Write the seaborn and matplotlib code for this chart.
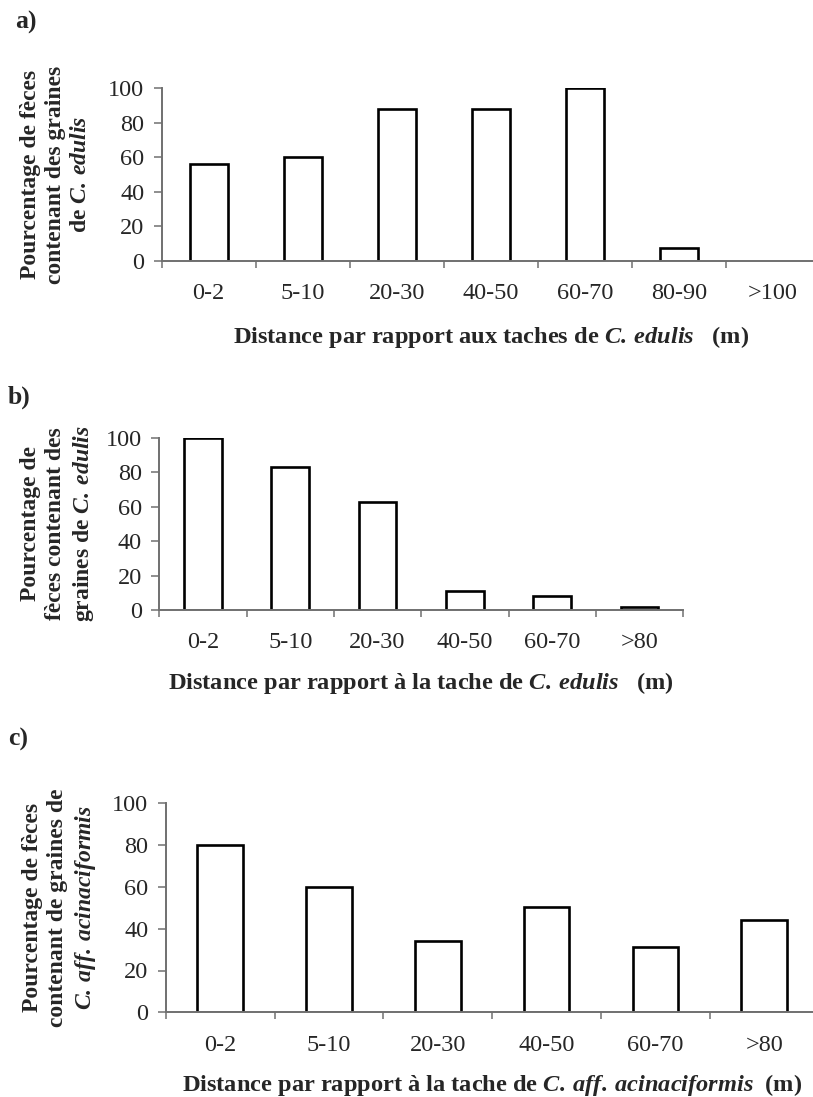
import numpy as np
import pandas as pd
import matplotlib
matplotlib.use('Agg')
import matplotlib.pyplot as plt
import seaborn as sns

# Données
classes_a = ['0-2', '5-10', '20-30', '40-50', '60-70', '80-90', '>100']
valeurs_a = [56, 60, 88, 88, 100, 7.5, 0]

classes_b = ['0-2', '5-10', '20-30', '40-50', '60-70', '>80']
valeurs_b = [100, 83, 62.5, 11.2, 8.2, 1.5]

classes_c = ['0-2', '5-10', '20-30', '40-50', '60-70', '>80']
valeurs_c = [80, 60, 34, 50.3, 31.2, 44.3]

sns.set_style('ticks')
plt.rcParams['font.family'] = ['Liberation Serif', 'DejaVu Serif']
plt.rcParams['mathtext.fontset'] = 'custom'
plt.rcParams['mathtext.rm'] = 'Liberation Serif'
plt.rcParams['mathtext.it'] = 'Liberation Serif:italic'
plt.rcParams['mathtext.bf'] = 'Liberation Serif:bold'
plt.rcParams['mathtext.bfit'] = 'Liberation Serif:italic:bold'

W, H = 813, 1097
fig = plt.figure(figsize=(W / 100, H / 100), dpi=100)

gris = '#707070'

# (gauche, haut, largeur, bas) en pixels
panneaux = [
    dict(lettre='a)', cats=classes_a, vals=valeurs_a, box=(161.7, 88.3, 658, 261),
         ylab="Pourcentage de fèces\ncontenant des graines\nde $\\mathbfit{C.\\:edulis}$",
         xlab="Distance par rapport aux taches de $\\mathbfit{C.\\:edulis}$   (m)",
         ylab_x=55.5, xlab_y=337, let=(15, 22), bw=0.40),
    dict(lettre='b)', cats=classes_b, vals=valeurs_b, box=(159.3, 437.7, 523.8, 610),
         ylab="Pourcentage de\nfèces contenant des\ngraines de $\\mathbfit{C.\\:edulis}$",
         xlab="Distance par rapport à la tache de $\\mathbfit{C.\\:edulis}$   (m)",
         ylab_x=58, xlab_y=683, let=(8, 397), bw=0.43),
    dict(lettre='c)', cats=classes_c, vals=valeurs_c, box=(165.7, 803.3, 653, 1012.3),
         ylab="Pourcentage de fèces\ncontenant de graines de\n$\\mathbfit{C.\\:aff.\\:acinaciformis}$",
         xlab="Distance par rapport à la tache de $\\mathbfit{C.\\:aff.\\:acinaciformis}$  (m)",
         ylab_x=60, xlab_y=1085, let=(8, 739), bw=0.42),
]

for p in panneaux:
    x0, top, w, bot = p['box']
    h = bot - top
    ax = fig.add_axes([x0 / W, 1 - bot / H, w / W, h / H])
    df = pd.DataFrame({'classe': p['cats'], 'pct': p['vals']})
    sns.barplot(data=df, x='classe', y='pct', order=p['cats'], ax=ax,
                color='white', saturation=1, edgecolor='black', linewidth=1.9,
                width=p['bw'], errorbar=None)
    for bar in ax.patches:
        if bar.get_height() == 0:
            bar.set_visible(False)
    n = len(p['cats'])
    ax.set_xlim(-0.5, n - 0.5)
    ax.set_ylim(0, 100)
    ax.set_yticks([0, 20, 40, 60, 80, 100])
    ax.set_xticks(np.arange(-0.5, n), minor=True)
    ax.tick_params(axis='x', which='major', length=0, pad=16, labelsize=17.5)
    ax.tick_params(axis='x', which='minor', length=6.7 / 1.39, width=1.1, color=gris,
                   direction='out')
    ax.tick_params(axis='y', length=7.7 / 1.39, width=1.1, color=gris, pad=7,
                   labelsize=17.5, direction='out')
    sns.despine(ax=ax)
    for s in ['left', 'bottom']:
        ax.spines[s].set_color(gris)
        ax.spines[s].set_linewidth(1.4)
    ax.set_ylabel(p['ylab'], fontsize=17, fontweight='bold', linespacing=1.27)
    ax.yaxis.label.set_va('center')
    ax.yaxis.set_label_coords((p['ylab_x'] - x0) / w, 0.5)
    ax.set_xlabel(p['xlab'], fontsize=17.6, fontweight='bold')
    ax.xaxis.label.set_va('center')
    ax.xaxis.set_label_coords(0.5, (bot - p['xlab_y']) / h)
    fig.text(p['let'][0] / W, 1 - p['let'][1] / H, p['lettre'], fontsize=18.5,
             fontweight='bold', ha='left', va='center')

fig.savefig('out.png', dpi=100, facecolor='white')
